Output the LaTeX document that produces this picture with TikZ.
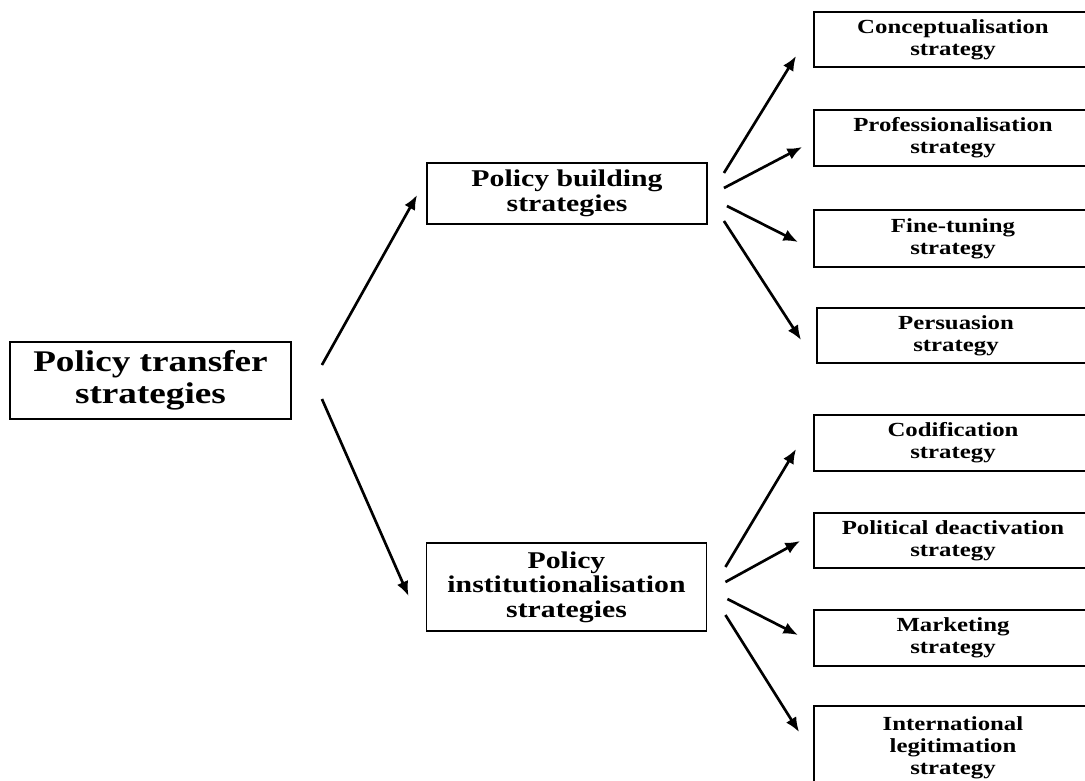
\documentclass[tikz,border=0pt]{standalone}
\usepackage{fontspec}
\setmainfont{Liberation Serif}[FakeStretch=1.24]
\usetikzlibrary{arrows.meta}

\tikzset{
  rootbox/.style={minimum width=210.75pt,minimum height=57.75pt,
    font=\fontsize{22.5}{24}\selectfont\bfseries},
  midbox/.style={minimum width=210pt,
    font=\fontsize{18}{18.5}\selectfont\bfseries},
  leafbox/.style={minimum width=208.5pt,
    font=\fontsize{15}{16.5}\selectfont\bfseries},
  arr/.style={line width=2pt,-{Latex[length=11pt,width=9pt]}}
}

\begin{document}
\begin{tikzpicture}[x=0.75pt,y=-0.75pt]

      \useasboundingbox (0,0) rectangle (1085,781);
      \clip (0,0) rectangle (1085,781);

      \begin{scope}[every node/.style={draw,line width=1.4pt,align=center,inner sep=0pt}]
        \node[rootbox] (root) at (150.5,380.5) {Policy transfer\\strategies};

        \node[midbox,minimum height=45.75pt] (build) at (567,193.5) {Policy building\\strategies};
        \node[midbox,minimum height=66pt]    (inst)  at (566.5,587) {Policy\\institutionalisation\\strategies};

        \node[leafbox,minimum height=41.25pt] (concept) at (953,39.5)  {Conceptualisation\\strategy};
        \node[leafbox,minimum height=42pt]    (prof)    at (953,138)   {Professionalisation\\strategy};
        \node[leafbox,minimum height=42.75pt] (fine)    at (953,238.5) {Fine-tuning\\strategy};
        \node[leafbox,minimum height=41.25pt] (persu)   at (956,335.5) {Persuasion\\strategy};
        \node[leafbox,minimum height=42pt]    (codif)   at (953,443)   {Codification\\strategy};
        \node[leafbox,minimum height=41.25pt] (polit)   at (953,540.5) {Political deactivation\\strategy};
        \node[leafbox,minimum height=42pt]    (market)  at (953,638)   {Marketing\\strategy};
        \node[leafbox,minimum height=63pt]    (intl)    at (953,748)   {International\\legitimation\\strategy};
      \end{scope}

      % first level
      \draw[arr] ([shift={(30,-15.5)}]root.east) -- ([shift={(-9,1.5)}]build.west);
      \draw[arr] ([shift={(30,18.5)}]root.east)  -- ([shift={(-17,9)}]inst.west);

      % policy building
      \draw[arr] ([shift={(16,-20.5)}]build.east) -- ([shift={(-17,16.5)}]concept.west);
      \draw[arr] ([shift={(16,-5.5)}]build.east)  -- ([shift={(-11,9)}]prof.west);
      \draw[arr] ([shift={(19,12.5)}]build.east)  -- ([shift={(-15,3.5)}]fine.west);
      \draw[arr] ([shift={(16,27.5)}]build.east)  -- ([shift={(-15,4.5)}]persu.west);

      % policy institutionalisation
      \draw[arr] ([shift={(18,-20)}]inst.east) -- ([shift={(-17,6)}]codif.west);
      \draw[arr] ([shift={(18,-5)}]inst.east)  -- ([shift={(-13,0.5)}]polit.west);
      \draw[arr] ([shift={(20,12)}]inst.east)  -- ([shift={(-15,-3)}]market.west);
      \draw[arr] ([shift={(18,28)}]inst.east)  -- ([shift={(-14,-16)}]intl.west);

    \end{tikzpicture}
\end{document}
